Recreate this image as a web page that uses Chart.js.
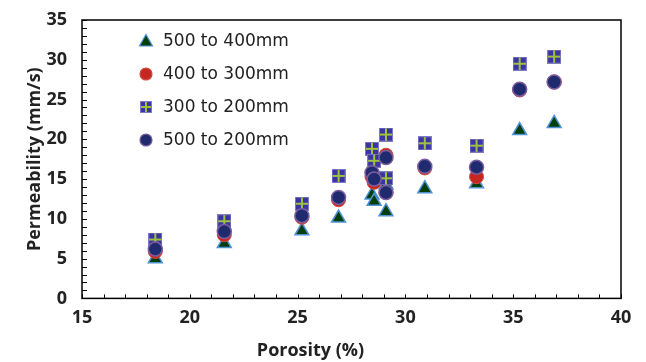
<!DOCTYPE html>
<html>
<head>
<meta charset="utf-8">
<script src="https://cdn.jsdelivr.net/npm/chart.js@4.4.1/dist/chart.umd.min.js"></script>
<style>
  body { margin: 0; background: #fff; }
  .wrap { width: 646px; height: 362px; position: relative; }
</style>
</head>
<body>
<div class="wrap"><canvas id="chart"></canvas></div>
<script>
// porosity (%) shared by all four size ranges
const porosity = [18.4, 21.6, 25.2, 26.9, 28.45, 28.55, 29.1, 29.1, 30.9, 33.3, 35.3, 36.9]

const perm500to400 = [5.0, 6.9, 8.5, 10.1, 13.0, 12.2, 14.3, 10.9, 13.8, 14.4, 21.1, 22.0]
const perm400to300 = [5.9, 8.0, 10.2, 12.4, 15.3, 14.6, 18.0, 13.3, 16.4, 15.3, 26.2, 27.2]
const perm300to200 = [7.4, 9.7, 11.9, 15.4, 18.8, 17.3, 20.6, 15.1, 19.5, 19.2, 29.5, 30.4]
const perm500to200 = [6.2, 8.4, 10.4, 12.7, 15.8, 15.0, 17.7, 13.3, 16.6, 16.5, 26.3, 27.2]

const seriesNames = ['500 to 400mm', '400 to 300mm', '300 to 200mm', '500 to 200mm']

const xTicks = [15, 20, 25, 30, 35, 40]
const yTicks = [0, 5, 10, 15, 20, 25, 30, 35]

const tickFont = { family: "'Open Sans', 'Noto Sans', sans-serif", size: 18, weight: 'bold' }

function toPoints(ys) {
  return ys.map((y, i) => ({ x: porosity[i], y: y }))
}

// square with a yellow-green cross, used as a point style
function makeCrossSquare(size) {
  const c = document.createElement('canvas')
  c.width = size
  c.height = size
  const g = c.getContext('2d')
  g.fillStyle = '#3b34a3'
  g.fillRect(0, 0, size, size)
  g.strokeStyle = '#7f7bc4'
  g.lineWidth = 1
  g.strokeRect(0.5, 0.5, size - 1, size - 1)
  g.strokeStyle = '#9fc23c'
  g.lineWidth = 2
  g.beginPath()
  g.moveTo(size / 2, 1)
  g.lineTo(size / 2, size - 1)
  g.moveTo(1, size / 2)
  g.lineTo(size - 1, size / 2)
  g.stroke()
  return c
}

const crossSquare = makeCrossSquare(14)
const crossSquareSmall = makeCrossSquare(12)

const data = {
  datasets: [
    {
      label: seriesNames[0],
      data: toPoints(perm500to400),
      pointStyle: 'triangle',
      pointRadius: 8,
      backgroundColor: '#053f0c',
      borderColor: '#4f93d6',
      borderWidth: 1.5,
      order: 4
    },
    {
      label: seriesNames[1],
      data: toPoints(perm400to300),
      pointStyle: 'circle',
      pointRadius: 7,
      backgroundColor: '#c4271f',
      borderColor: '#d24a44',
      borderWidth: 1,
      order: 3
    },
    {
      label: seriesNames[2],
      data: toPoints(perm300to200),
      pointStyle: crossSquare,
      backgroundColor: '#3b34a3',
      borderColor: '#3b34a3',
      order: 2
    },
    {
      label: seriesNames[3],
      data: toPoints(perm500to200),
      pointStyle: 'circle',
      pointRadius: 7,
      backgroundColor: '#1f2b6e',
      borderColor: '#7d5d9e',
      borderWidth: 1.5,
      order: 1
    }
  ]
}

// box round the plot and small inward ticks every unit
const frameTicks = {
  id: 'frameTicks',
  afterDraw: (chart) => {
    const { ctx, chartArea, scales } = chart
    ctx.save()
    ctx.strokeStyle = '#000'
    ctx.lineWidth = 1.5
    ctx.strokeRect(chartArea.left, chartArea.top, chartArea.right - chartArea.left, chartArea.bottom - chartArea.top)
    ctx.lineWidth = 1
    ctx.beginPath()
    for (let v = 15; v <= 40; v++) {
      const px = Math.round(scales.x.getPixelForValue(v)) + 0.5
      ctx.moveTo(px, chartArea.bottom)
      ctx.lineTo(px, chartArea.bottom - 4)
    }
    for (let v = 0; v <= 35; v++) {
      const py = Math.round(scales.y.getPixelForValue(v)) + 0.5
      ctx.moveTo(chartArea.left, py)
      ctx.lineTo(chartArea.left + 5, py)
    }
    ctx.stroke()
    ctx.restore()
  }
}

// legend inside the plot, top left
const innerLegend = {
  id: 'innerLegend',
  afterDraw: (chart) => {
    const ctx = chart.ctx
    const mx = 146
    const tx = 163
    const rows = [41, 74, 107, 140]
    ctx.save()
    ctx.font = "17px 'DejaVu Sans', sans-serif"
    ctx.fillStyle = '#222'
    ctx.textBaseline = 'middle'
    rows.forEach((y, i) => {
      if (i === 0) {
        ctx.beginPath()
        ctx.moveTo(mx, y - 6.5)
        ctx.lineTo(mx + 6.5, y + 5)
        ctx.lineTo(mx - 6.5, y + 5)
        ctx.closePath()
        ctx.fillStyle = '#053f0c'
        ctx.fill()
        ctx.strokeStyle = '#4f93d6'
        ctx.lineWidth = 1.2
        ctx.stroke()
      } else if (i === 2) {
        ctx.drawImage(crossSquareSmall, mx - 6, y - 6)
      } else {
        ctx.beginPath()
        ctx.arc(mx, y, 6, 0, Math.PI * 2)
        ctx.fillStyle = i === 1 ? '#c4271f' : '#1f2b6e'
        ctx.fill()
        ctx.strokeStyle = i === 1 ? '#d24a44' : '#7d5d9e'
        ctx.lineWidth = 1.2
        ctx.stroke()
      }
      ctx.fillStyle = '#222'
      ctx.fillText(seriesNames[i], tx, y + 1)
    })
    ctx.restore()
  }
}

const options = {
  responsive: true,
  maintainAspectRatio: false,
  animation: false,
  layout: { padding: { left: 0, right: 25, top: 20, bottom: 0 } },
  plugins: {
    legend: { display: false },
    tooltip: { enabled: false },
    title: {
      display: true,
      position: 'bottom',
      text: 'Porosity (%)',
      color: '#222',
      font: tickFont,
      padding: { top: 0, bottom: 0 }
    }
  },
  scales: {
    x: {
      type: 'linear',
      min: 15,
      max: 40,
      afterBuildTicks: (scale) => { scale.ticks = xTicks.map(v => ({ value: v })) },
      afterFit: (scale) => { scale.height = 42 },
      grid: { display: false },
      border: { display: false },
      ticks: { color: '#222', font: tickFont, padding: 1, maxRotation: 0 }
    },
    y: {
      type: 'linear',
      min: 0,
      max: 35,
      afterBuildTicks: (scale) => { scale.ticks = yTicks.map(v => ({ value: v })) },
      afterFit: (scale) => { scale.width = 82 },
      grid: { display: false },
      border: { display: false },
      ticks: { color: '#222', font: tickFont, padding: 7 },
      title: {
        display: true,
        text: 'Permeability (mm/s)',
        color: '#222',
        font: tickFont,
        padding: { top: 24, bottom: 0 }
      }
    }
  }
}

const config = {
  type: 'scatter',
  data,
  options,
  plugins: [frameTicks, innerLegend]
}

const myChart = new Chart(document.getElementById('chart'), config)
</script>
</body>
</html>
